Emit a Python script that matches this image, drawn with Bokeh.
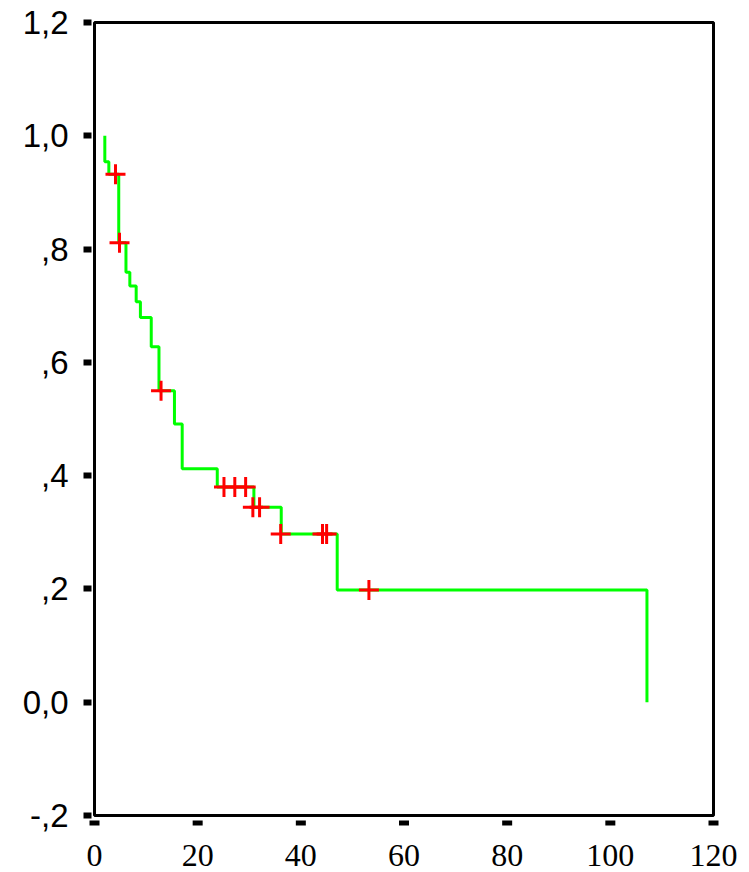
from bokeh.plotting import figure
from bokeh.models import Range1d, FixedTicker, ColumnDataSource, LabelSet, BoxAnnotation
from bokeh.embed import file_html
from bokeh.resources import INLINE

# Kaplan-Meier step curve: drop times and survival level after each drop
step_times = [2.0, 2.0, 2.78, 4.7, 6.1, 6.85, 8.08, 8.9, 11.0, 12.5, 15.5, 17.0,
              23.8, 30.9, 36.2, 47.05, 107.1]
step_surv = [1.0, 0.954, 0.932, 0.811, 0.759, 0.735, 0.707, 0.679, 0.6275, 0.55,
             0.491, 0.412, 0.380, 0.344, 0.297, 0.198, 0.0]

# Censored observations
cens_times = [4.07, 4.85, 12.9, 25.1, 27.2, 29.3, 30.7, 32.0, 36.1, 44.2, 45.0, 53.2]
cens_surv = [0.932, 0.811, 0.55, 0.380, 0.380, 0.380, 0.344, 0.344, 0.297, 0.297,
             0.297, 0.198]

x_ticks = [0, 20, 40, 60, 80, 100, 120]
x_tick_labels = ["0", "20", "40", "60", "80", "100", "120"]
y_ticks = [-0.2, 0.0, 0.2, 0.4, 0.6, 0.8, 1.0, 1.2]
y_tick_labels = ["-,2", "0,0", ",2", ",4", ",6", ",8", "1,0", "1,2"]

X_MIN, X_MAX = 0, 120
Y_MIN, Y_MAX = -0.2, 1.2

FONT = "Liberation Sans"

# layout (pixels)
W, H = 749, 872
BOX_L, BOX_R, BOX_T, BOX_B = 94, 713, 22, 815    # drawn axes box
px_x = (BOX_R - BOX_L) / (X_MAX - X_MIN)
px_y = (BOX_B - BOX_T) / (Y_MAX - Y_MIN)
frame_l, frame_r, frame_t, frame_b = 84, 745, 19, H

x_range = Range1d(X_MIN - (BOX_L - frame_l) / px_x, X_MAX + (frame_r - BOX_R) / px_x)
y_range = Range1d(Y_MIN - (frame_b - BOX_B) / px_y, Y_MAX + (BOX_T - frame_t) / px_y)

p = figure(width=W, height=H, output_backend="svg", toolbar_location=None,
           x_range=x_range, y_range=y_range, x_axis_location=None,
           min_border_left=frame_l, min_border_right=W - frame_r,
           min_border_top=frame_t, min_border_bottom=0)

p.background_fill_color = "white"
p.border_fill_color = "white"
p.outline_line_color = None
p.grid.visible = False

# axes box
p.add_layout(BoxAnnotation(left=X_MIN, right=X_MAX, bottom=Y_MIN, top=Y_MAX,
                           fill_alpha=0, line_color="black", line_alpha=1.0,
                           line_width=3))

p.step(step_times, step_surv, mode="after", line_color="#00FF00", line_width=3)
p.scatter(cens_times, cens_surv, marker="cross", size=20, line_color="#FF0000",
          line_width=3)

# y axis
p.yaxis.ticker = FixedTicker(ticks=y_ticks)
p.yaxis.major_label_overrides = {t: l for t, l in zip(y_ticks, y_tick_labels)}
p.yaxis.axis_line_color = None
p.yaxis.minor_tick_line_color = None
p.yaxis.major_tick_in = 7
p.yaxis.major_tick_out = 1
p.yaxis.major_tick_line_width = 6
p.yaxis.major_tick_line_color = "black"
p.yaxis.major_label_standoff = 15
p.yaxis.major_label_text_font = FONT
p.yaxis.major_label_text_font_size = "33px"
p.yaxis.major_label_text_color = "black"

# x axis tick marks (small squares below the box) and labels
tick_y = [Y_MIN - 7.5 / px_y] * len(x_ticks)
p.rect(x=x_ticks, y=tick_y, width=10, height=5, width_units="screen",
       height_units="screen", fill_color="black", line_color=None)

xlab_src = ColumnDataSource(dict(x=x_ticks, y=[Y_MIN] * len(x_ticks), text=x_tick_labels))
p.add_layout(LabelSet(x="x", y="y", text="text", source=xlab_src,
                      y_offset=-50, text_align="center", text_baseline="alphabetic",
                      text_font=FONT, text_font_size="32px", text_color="black"))

open("out.html", "w").write(file_html(p, INLINE))
